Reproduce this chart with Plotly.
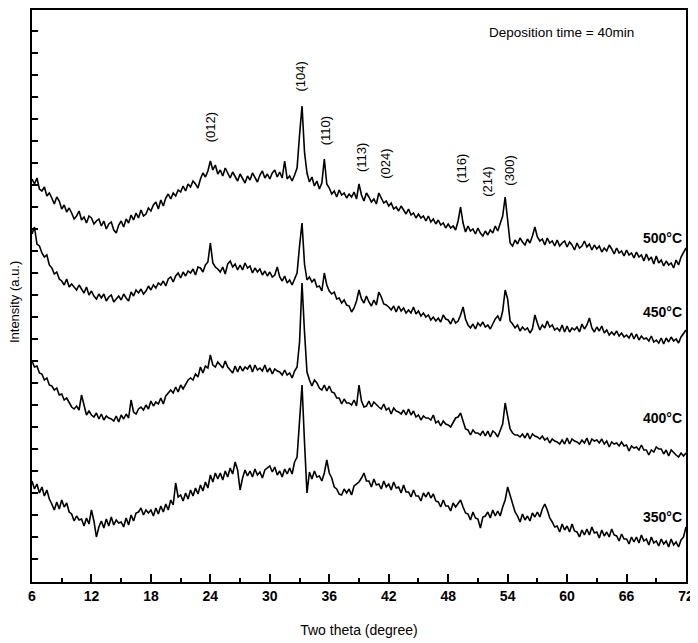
import plotly.graph_objects as go

# 2-theta sampling: 6.00, 6.25, ... 72.00 degrees
x_start = 6.0
x_step = 0.25

i_500 = [
403, 398, 404, 393, 391, 395, 386, 389, 384, 378, 385, 381, 373, 377, 370, 374,
369, 363, 366, 371, 362, 365, 359, 366, 364, 358, 361, 363, 356, 361, 353, 358,
360, 352, 349, 357, 361, 355, 363, 359, 367, 362, 369, 364, 372, 366, 368, 374,
371, 377, 380, 373, 382, 376, 384, 388, 383, 389, 386, 392, 390, 396, 391, 398,
395, 401, 398, 394, 403, 409, 405, 411, 421, 412, 417, 408, 412, 406, 414, 409,
404, 410, 406, 401, 408, 403, 399, 406, 402, 409, 405, 400, 407, 411, 404, 408,
403, 409, 412, 405, 410, 404, 421, 403, 406, 401, 407, 414, 447, 476, 430, 409,
400, 405, 396, 401, 393, 399, 423, 398, 394, 388, 391, 385, 392, 387, 389, 384,
388, 385, 390, 383, 398, 387, 381, 389, 385, 380, 383, 378, 389, 384, 379, 381,
376, 379, 373, 375, 371, 376, 372, 368, 373, 367, 369, 364, 368, 364, 366, 361,
366, 360, 363, 358, 362, 357, 359, 354, 358, 354, 356, 352, 361, 375, 359, 350,
356, 351, 353, 348, 354, 349, 346, 351, 347, 352, 349, 356, 351, 359, 366, 385,
360, 339, 336, 342, 338, 344, 340, 337, 343, 339, 346, 355, 345, 341, 343, 337,
344, 339, 341, 336, 342, 336, 339, 341, 335, 340, 337, 332, 339, 334, 336, 341,
335, 338, 332, 337, 333, 336, 330, 334, 331, 337, 333, 328, 334, 329, 331, 326,
332, 327, 329, 324, 330, 325, 327, 321, 328, 322, 325, 318, 326, 319, 322, 316,
321, 317, 319, 314, 322, 317, 325, 329, 334]

i_450 = [
348, 355, 338, 336, 329, 325, 327, 317, 314, 308, 310, 303, 301, 297, 303, 295,
298, 295, 292, 297, 293, 289, 295, 287, 291, 286, 283, 288, 284, 288, 281, 285,
287, 280, 283, 286, 282, 288, 284, 281, 290, 286, 292, 289, 293, 288, 291, 296,
292, 297, 294, 299, 297, 301, 296, 303, 305, 300, 306, 309, 304, 310, 306, 311,
309, 313, 307, 315, 314, 310, 317, 320, 339, 319, 315, 313, 310, 315, 308, 318,
321, 315, 318, 312, 317, 312, 319, 314, 316, 309, 314, 310, 313, 307, 311, 306,
310, 305, 307, 315, 305, 301, 306, 299, 302, 297, 303, 309, 336, 359, 318, 302,
305, 300, 303, 295, 296, 291, 309, 297, 291, 288, 290, 283, 284, 279, 282, 277,
276, 270, 274, 281, 292, 283, 279, 286, 280, 276, 282, 277, 290, 285, 278, 277,
275, 272, 276, 270, 276, 271, 274, 269, 272, 269, 275, 268, 271, 266, 269, 265,
267, 262, 265, 261, 264, 260, 267, 263, 262, 258, 264, 259, 261, 267, 275, 263,
257, 254, 258, 253, 259, 256, 260, 255, 257, 253, 258, 263, 266, 261, 271, 292,
283, 261, 258, 254, 257, 251, 255, 252, 254, 249, 253, 267, 259, 252, 257, 254,
261, 255, 257, 252, 254, 251, 257, 250, 256, 250, 254, 252, 255, 250, 258, 253,
257, 264, 254, 250, 255, 251, 256, 249, 252, 247, 250, 247, 251, 246, 249, 245,
247, 244, 249, 243, 248, 242, 246, 243, 244, 241, 246, 240, 242, 239, 244, 238,
244, 240, 245, 241, 243, 239, 245, 249, 252]

i_400 = [
221, 215, 216, 209, 208, 202, 204, 197, 196, 192, 194, 187, 188, 182, 184, 179,
175, 173, 176, 172, 187, 177, 167, 171, 167, 165, 169, 163, 168, 162, 166, 164,
163, 161, 166, 160, 167, 163, 168, 164, 182, 170, 168, 173, 175, 172, 177, 173,
181, 176, 180, 178, 184, 178, 186, 189, 192, 189, 195, 190, 197, 193, 198, 202,
204, 202, 208, 205, 215, 209, 216, 214, 227, 217, 215, 220, 217, 214, 221, 215,
212, 209, 216, 210, 216, 211, 215, 213, 217, 210, 217, 212, 214, 211, 217, 210,
214, 208, 213, 211, 210, 207, 212, 207, 209, 204, 211, 215, 240, 299, 250, 210,
202, 196, 202, 199, 194, 192, 197, 191, 196, 190, 189, 184, 184, 178, 183, 179,
179, 177, 182, 176, 197, 181, 175, 176, 181, 175, 180, 177, 175, 173, 178, 172,
174, 168, 174, 171, 170, 168, 172, 167, 173, 167, 171, 165, 167, 162, 166, 164,
164, 162, 167, 159, 161, 156, 161, 158, 157, 155, 159, 164, 165, 169, 161, 153,
152, 147, 152, 149, 149, 147, 151, 146, 151, 145, 151, 149, 145, 151, 158, 179,
164, 153, 149, 147, 147, 145, 148, 144, 149, 143, 148, 146, 145, 143, 146, 142,
144, 139, 143, 141, 140, 138, 142, 138, 144, 138, 143, 141, 140, 138, 142, 139,
144, 137, 143, 141, 142, 139, 143, 138, 141, 135, 140, 138, 139, 136, 140, 136,
137, 131, 136, 134, 135, 132, 137, 132, 132, 127, 132, 130, 135, 133, 133, 128,
132, 126, 132, 129, 127, 125, 129, 126, 129]

i_350 = [
101, 93, 98, 89, 95, 86, 92, 83, 78, 72, 80, 73, 82, 75, 79, 70,
68, 61, 66, 62, 63, 56, 64, 58, 72, 61, 45, 55, 61, 54, 63, 56,
65, 57, 62, 59, 60, 55, 64, 57, 67, 61, 69, 70, 74, 67, 72, 69,
72, 66, 74, 68, 76, 70, 78, 72, 82, 77, 99, 85, 87, 81, 89, 83,
92, 86, 94, 88, 97, 91, 100, 94, 107, 100, 109, 103, 109, 102, 111, 105,
114, 108, 120, 112, 92, 104, 112, 106, 111, 105, 113, 107, 110, 104, 112, 114,
116, 110, 115, 107, 111, 105, 113, 108, 114, 108, 120, 125, 160, 197, 140, 89,
110, 103, 111, 105, 106, 101, 109, 122, 109, 104, 95, 93, 88, 87, 93, 89,
93, 87, 96, 98, 100, 104, 109, 101, 101, 95, 103, 97, 98, 93, 101, 95,
98, 92, 100, 94, 95, 89, 97, 90, 90, 85, 92, 86, 86, 81, 89, 85,
90, 84, 88, 81, 80, 75, 82, 76, 76, 71, 79, 75, 78, 82, 75, 69,
68, 62, 70, 64, 63, 54, 65, 66, 70, 64, 72, 66, 71, 66, 75, 82,
95, 86, 79, 70, 66, 60, 68, 62, 66, 61, 69, 65, 70, 65, 73, 78,
72, 64, 60, 55, 56, 50, 58, 52, 56, 50, 58, 51, 50, 45, 52, 47,
53, 47, 55, 49, 50, 44, 52, 46, 50, 45, 53, 47, 46, 41, 48, 43,
43, 38, 45, 40, 45, 39, 47, 41, 43, 37, 45, 39, 41, 36, 43, 38,
41, 35, 43, 37, 40, 35, 42, 45, 55]

series_names = ["500°C", "450°C", "400°C", "350°C"]
series_values = [i_500, i_450, i_400, i_350]
label_y = [344, 270, 164, 65]

peak_labels = ["(012)", "(104)", "(110)", "(113)", "(024)", "(116)", "(214)", "(300)"]
peak_x = [24.0, 33.0, 35.6, 39.2, 41.6, 49.3, 51.9, 54.1]
peak_label_y = [455, 505, 451, 425, 418, 413, 400, 411]

x_ticks = list(range(6, 73, 6))
x_tick_text = ["<b>%d</b>" % v for v in x_ticks]

fig = go.Figure()
for name, vals in zip(series_names, series_values):
    xs = [x_start + x_step * k for k in range(len(vals))]
    fig.add_trace(go.Scatter(x=xs, y=vals, mode="lines", name=name,
                             line=dict(color="black", width=1.6),
                             showlegend=False, hoverinfo="skip"))

font_family = "Liberation Sans Narrow, Liberation Sans, Arial, sans-serif"

for name, ly in zip(series_names, label_y):
    fig.add_annotation(x=72, y=ly, xref="x", yref="y", text="<b>%s</b>" % name,
                       showarrow=False, xanchor="right", yanchor="middle", xshift=-2,
                       font=dict(family=font_family, size=14, color="black"))

for t, px_, py_ in zip(peak_labels, peak_x, peak_label_y):
    fig.add_annotation(x=px_, y=py_, xref="x", yref="y", text=t, textangle=-90,
                       showarrow=False, xanchor="center", yanchor="middle",
                       font=dict(family=font_family, size=13, color="black"))

fig.add_annotation(x=0.81, y=0.96, xref="paper", yref="paper",
                   text="Deposition time = 40min", showarrow=False,
                   xanchor="center", yanchor="middle",
                   font=dict(family=font_family, size=13.5, color="black"))

# y-axis title placed as annotation so margins stay fixed
fig.add_annotation(x=-0.027, y=0.49, xref="paper", yref="paper",
                   text="Intensity (a.u.)", textangle=-90, showarrow=False,
                   xanchor="center", yanchor="middle",
                   font=dict(family=font_family, size=13, color="black"))

# page body adds an 8px offset, so the figure is sized to fit the window
fig.update_layout(
    width=690, height=635,
    margin=dict(l=24, r=12, t=2, b=61, autoexpand=False),
    plot_bgcolor="white", paper_bgcolor="white",
    font=dict(family=font_family, color="black"),
)

fig.update_xaxes(range=[6, 72], tickvals=x_ticks, ticktext=x_tick_text,
                 ticks="inside", ticklen=8, tickwidth=1.5,
                 tickcolor="black", showline=True, linecolor="black", linewidth=2,
                 mirror=True, showgrid=False, zeroline=False, automargin=False,
                 ticklabeloverflow="allow",
                 minor=dict(dtick=3, tick0=6, ticks="inside", ticklen=4, tickwidth=1.5, tickcolor="black"),
                 tickfont=dict(family=font_family, size=14, color="black"),
                 title=dict(text="Two theta (degree)", standoff=22,
                            font=dict(family=font_family, size=14, color="black")))
fig.update_yaxes(range=[0, 572], tick0=23, dtick=22, ticks="inside", ticklen=6, tickwidth=1.5,
                 tickcolor="black", showline=True, linecolor="black", linewidth=2,
                 mirror=True, showgrid=False, zeroline=False, showticklabels=False,
                 automargin=False)

fig.write_html("out.html")
